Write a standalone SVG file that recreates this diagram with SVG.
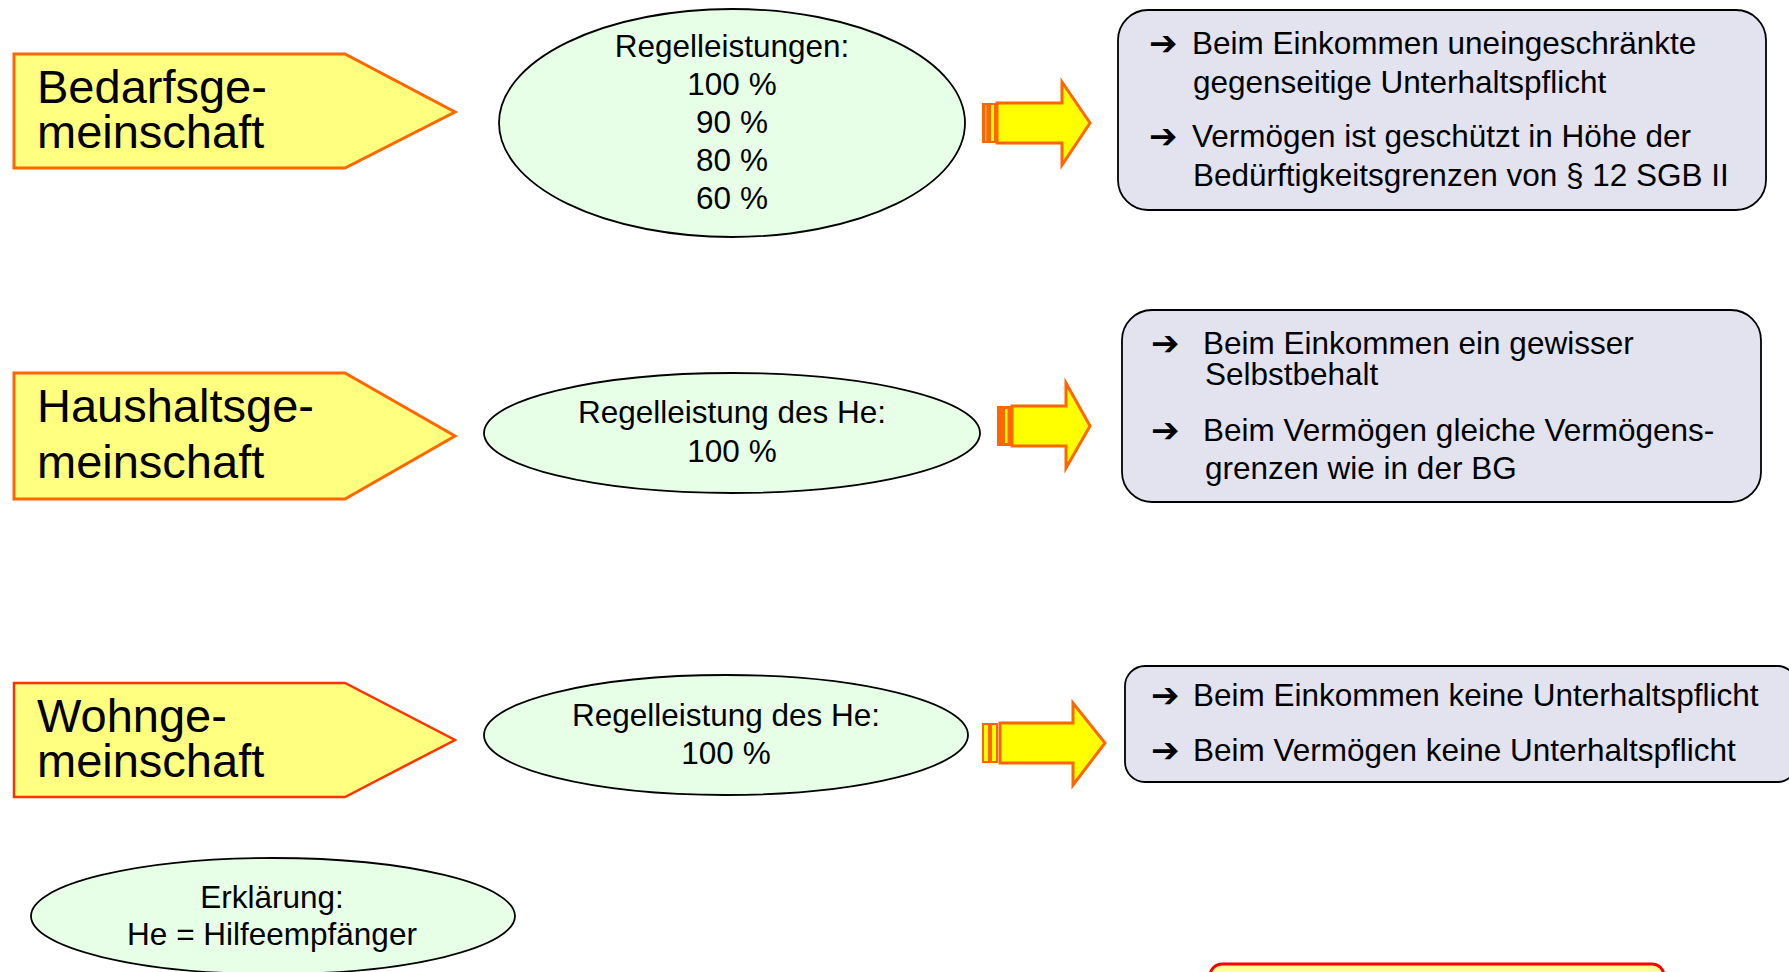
<svg xmlns="http://www.w3.org/2000/svg" width="1789" height="972" viewBox="0 0 1789 972">
<style>
.pent{fill:#FFFF80;stroke:#FF6600;stroke-width:3}
.ptxt{font-family:"Liberation Sans",Arial,sans-serif;font-size:47px;fill:#000}
.ell{fill:#E6FFE6;stroke:#000;stroke-width:1.8}
.etxt{font-family:"Liberation Sans",Arial,sans-serif;font-size:31.5px;fill:#000;text-anchor:middle}
.box{fill:#E3E3EF;stroke:#000;stroke-width:1.8}
.btxt{font-family:"Liberation Sans",Arial,sans-serif;font-size:31.5px;fill:#000}
.bul{font-family:"DejaVu Sans",sans-serif;font-size:34px;font-weight:bold;fill:#000}
.abody{fill:#FFFF00;stroke:#FF6600;stroke-width:3;stroke-linejoin:miter}
.astripe{fill:#FF6600}
.ayel{fill:#FFFF00;stroke:#FF6600;stroke-width:2}
</style>

<g id="bedarfsgemeinschaft">
<polygon class="pent" points="14,54 345,54 455,112 345,168 14,168"/>
<text class="ptxt" x="37" y="103">Bedarfsge-</text>
<text class="ptxt" x="37" y="148">meinschaft</text>
</g>
<g id="haushaltsgemeinschaft">
<polygon class="pent" points="14,373 345,373 455,436 345,499 14,499"/>
<text class="ptxt" x="37" y="422">Haushaltsge-</text>
<text class="ptxt" x="37" y="478">meinschaft</text>
</g>
<g id="wohngemeinschaft">
<polygon class="pent" style="stroke:#FF3300;stroke-width:2.5" points="14,683 345,683 455,740 345,797 14,797"/>
<text class="ptxt" x="37" y="732">Wohnge-</text>
<text class="ptxt" x="37" y="777">meinschaft</text>
</g>

<g id="regelleistungen-bg">
<ellipse class="ell" cx="732" cy="123" rx="233" ry="114"/>
<text class="etxt" x="732" y="57">Regelleistungen:</text>
<text class="etxt" x="732" y="95">100 %</text>
<text class="etxt" x="732" y="133">90 %</text>
<text class="etxt" x="732" y="171">80 %</text>
<text class="etxt" x="732" y="209">60 %</text>
</g>
<g id="regelleistung-hg">
<ellipse class="ell" cx="732" cy="433" rx="248" ry="60"/>
<text class="etxt" x="732" y="423">Regelleistung des He:</text>
<text class="etxt" x="732" y="462">100 %</text>
</g>
<g id="regelleistung-wg">
<ellipse class="ell" cx="726" cy="735" rx="242" ry="60"/>
<text class="etxt" x="726" y="726">Regelleistung des He:</text>
<text class="etxt" x="726" y="764">100 %</text>
</g>
<g id="erklaerung">
<ellipse class="ell" cx="273" cy="916" rx="242" ry="58"/>
<text class="etxt" x="272" y="908">Erklärung:</text>
<text class="etxt" x="272" y="945">He = Hilfeempfänger</text>
</g>

<g id="connectors">
<g id="arrow-bg">
<rect class="astripe" x="982" y="103" width="7" height="40"/>
<rect x="985" y="105" width="1.5" height="36" fill="#FFB050"/>
<rect class="ayel" x="990" y="104" width="5" height="38"/>
<polygon class="abody" points="997,103 1062,103 1062,82 1090,123 1062,165 1062,143 997,143"/>
</g>
<g id="arrow-hg">
<rect class="astripe" x="997" y="406" width="15" height="40"/>
<rect x="1005" y="409" width="2.5" height="34" fill="#FFFF00"/>
<polygon class="abody" points="1012,406 1066,406 1066,383 1090,426 1066,468 1066,446 1012,446"/>
</g>
<g id="arrow-wg">
<rect class="ayel" x="983" y="724" width="6" height="38"/>
<rect class="ayel" x="991" y="724" width="6" height="38"/>
<polygon class="abody" points="1000,723 1073,723 1073,703 1105,743 1073,785 1073,763 1000,763"/>
</g>
</g>

<g id="box-bg">
<rect class="box" x="1118" y="10" width="648" height="200" rx="30" ry="30"/>
<text class="bul" x="1149" y="55">➔</text>
<text class="btxt" x="1192" y="54">Beim Einkommen uneingeschränkte</text>
<text class="btxt" x="1193" y="93">gegenseitige Unterhaltspflicht</text>
<text class="bul" x="1149" y="148">➔</text>
<text class="btxt" x="1192" y="147">Vermögen ist geschützt in Höhe der</text>
<text class="btxt" x="1193" y="186">Bedürftigkeitsgrenzen von § 12 SGB II</text>
</g>
<g id="box-hg">
<rect class="box" x="1122" y="310" width="639" height="192" rx="30" ry="30"/>
<text class="bul" x="1151" y="355">➔</text>
<text class="btxt" x="1203" y="354">Beim Einkommen ein gewisser</text>
<text class="btxt" x="1205" y="385">Selbstbehalt</text>
<text class="bul" x="1151" y="442">➔</text>
<text class="btxt" x="1203" y="441">Beim Vermögen gleiche Vermögens-</text>
<text class="btxt" x="1205" y="479">grenzen wie in der BG</text>
</g>
<g id="box-wg">
<rect class="box" x="1125" y="666" width="672" height="116" rx="20" ry="20"/>
<text class="bul" x="1151" y="707">➔</text>
<text class="btxt" x="1193" y="706">Beim Einkommen keine Unterhaltspflicht</text>
<text class="bul" x="1151" y="762">➔</text>
<text class="btxt" x="1193" y="761">Beim Vermögen keine Unterhaltspflicht</text>
</g>

<g id="note-box">
<rect x="1210" y="964" width="454" height="40" rx="12" ry="12" fill="#FFFF99" stroke="#FF0000" stroke-width="3"/>
</g>
</svg>
